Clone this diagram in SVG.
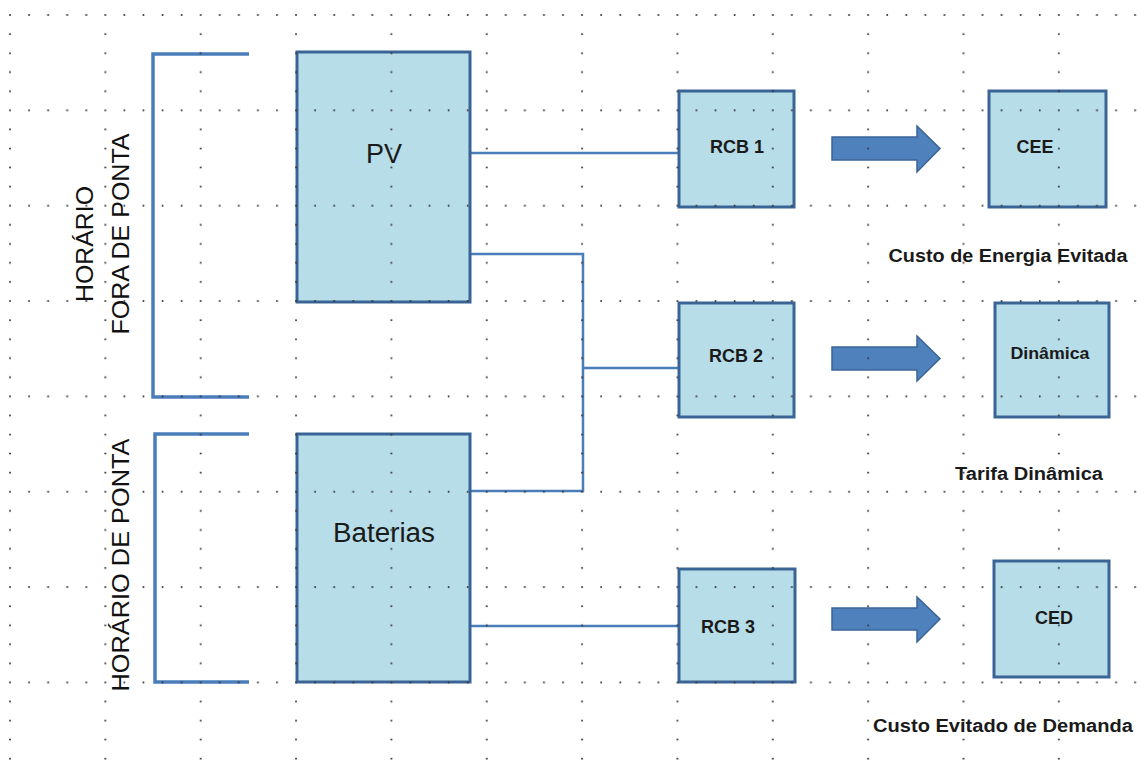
<svg xmlns="http://www.w3.org/2000/svg" width="1148" height="774" viewBox="0 0 1148 774">
<style>
.box{fill:#B7DDE8;stroke:#3B6496;stroke-width:3}
.wire{fill:none;stroke:#4A7EBB;stroke-width:2.5}
.brk{fill:none;stroke:#4A7EBB;stroke-width:3.5}
.arrow{fill:#4F81BD;stroke:#3B6496;stroke-width:1.5;stroke-linejoin:miter}
.big{font-family:"Liberation Sans",Arial,sans-serif;font-size:27px;fill:#1a1a1a;text-anchor:middle}
.lbl{font-family:"Liberation Sans",Arial,sans-serif;font-size:18px;font-weight:bold;fill:#1a1a1a;text-anchor:middle}
.side{font-family:"Liberation Sans",Arial,sans-serif;font-size:24px;fill:#111;text-anchor:middle}
</style>
<defs>
<pattern id="grid" patternUnits="userSpaceOnUse" x="9" y="14" width="95.35" height="95.35">
<circle cx="1" cy="1" r="1" fill="#333"/>
<circle cx="20.07" cy="1" r="1" fill="#333"/>
<circle cx="39.14" cy="1" r="1" fill="#333"/>
<circle cx="58.21" cy="1" r="1" fill="#333"/>
<circle cx="77.28" cy="1" r="1" fill="#333"/>
<circle cx="1" cy="20.07" r="1" fill="#333"/>
<circle cx="1" cy="39.14" r="1" fill="#333"/>
<circle cx="1" cy="58.21" r="1" fill="#333"/>
<circle cx="1" cy="77.28" r="1" fill="#333"/>
</pattern>
</defs>
<rect width="1148" height="774" fill="#fff"/>

<g id="brackets">
<path class="brk" d="M249,54 H153 V397 H249"/>
<path class="brk" d="M249,434 H155 V682 H249"/>
</g>

<g id="side-labels">
<text class="side" transform="translate(93,244) rotate(-90)" textLength="116" lengthAdjust="spacingAndGlyphs">HORÁRIO</text>
<text class="side" transform="translate(129,234) rotate(-90)" textLength="201" lengthAdjust="spacingAndGlyphs">FORA DE PONTA</text>
<text class="side" transform="translate(129,565) rotate(-90)" textLength="253" lengthAdjust="spacingAndGlyphs">HORÁRIO DE PONTA</text>
</g>

<g id="connectors">
<path class="wire" d="M470,153 H679"/>
<path class="wire" d="M470,254 H583 V491 H470"/>
<path class="wire" d="M583,368 H679"/>
<path class="wire" d="M470,626 H679"/>
</g>

<g id="pv">
<rect class="box" x="297" y="52" width="173" height="250"/>
<text class="big" x="384" y="163">PV</text>
</g>
<g id="baterias">
<rect class="box" x="297" y="434" width="173" height="248"/>
<text class="big" x="384" y="542" textLength="102" lengthAdjust="spacingAndGlyphs">Baterias</text>
</g>

<g id="rcb1">
<rect class="box" x="679" y="91" width="115" height="116"/>
<text class="lbl" x="737" y="153">RCB 1</text>
</g>
<g id="rcb2">
<rect class="box" x="679" y="303" width="115" height="114"/>
<text class="lbl" x="736" y="362">RCB 2</text>
</g>
<g id="rcb3">
<rect class="box" x="679" y="569" width="116" height="113"/>
<text class="lbl" x="728" y="633">RCB 3</text>
</g>

<g id="arrow1">
<polygon class="arrow" points="832,137 917,137 917,126 940,148.5 917,172 917,160 832,160"/>
</g>
<g id="arrow2">
<polygon class="arrow" points="832,347 917,347 917,336 940,358.5 917,381 917,370 832,370"/>
</g>
<g id="arrow3">
<polygon class="arrow" points="832,608 917,608 917,597 940,619 917,642 917,630 832,630"/>
</g>

<g id="cee">
<rect class="box" x="989" y="91" width="117" height="116"/>
<text class="lbl" x="1035" y="153">CEE</text>
</g>
<g id="dinamica">
<rect class="box" x="995" y="303" width="114" height="114"/>
<text class="lbl" x="1050" y="359" style="font-size:16px" textLength="79" lengthAdjust="spacingAndGlyphs">Dinâmica</text>
</g>
<g id="ced">
<rect class="box" x="994" y="561" width="115" height="116"/>
<text class="lbl" x="1054" y="624">CED</text>
</g>

<g id="captions">
<text class="lbl" x="1008" y="262" textLength="239" lengthAdjust="spacingAndGlyphs">Custo de Energia Evitada</text>
<text class="lbl" x="1029" y="480" textLength="148" lengthAdjust="spacingAndGlyphs">Tarifa Dinâmica</text>
<text class="lbl" x="1003" y="732" textLength="260" lengthAdjust="spacingAndGlyphs">Custo Evitado de Demanda</text>
</g>

<rect id="dot-grid" width="1148" height="774" fill="url(#grid)"/>
</svg>
